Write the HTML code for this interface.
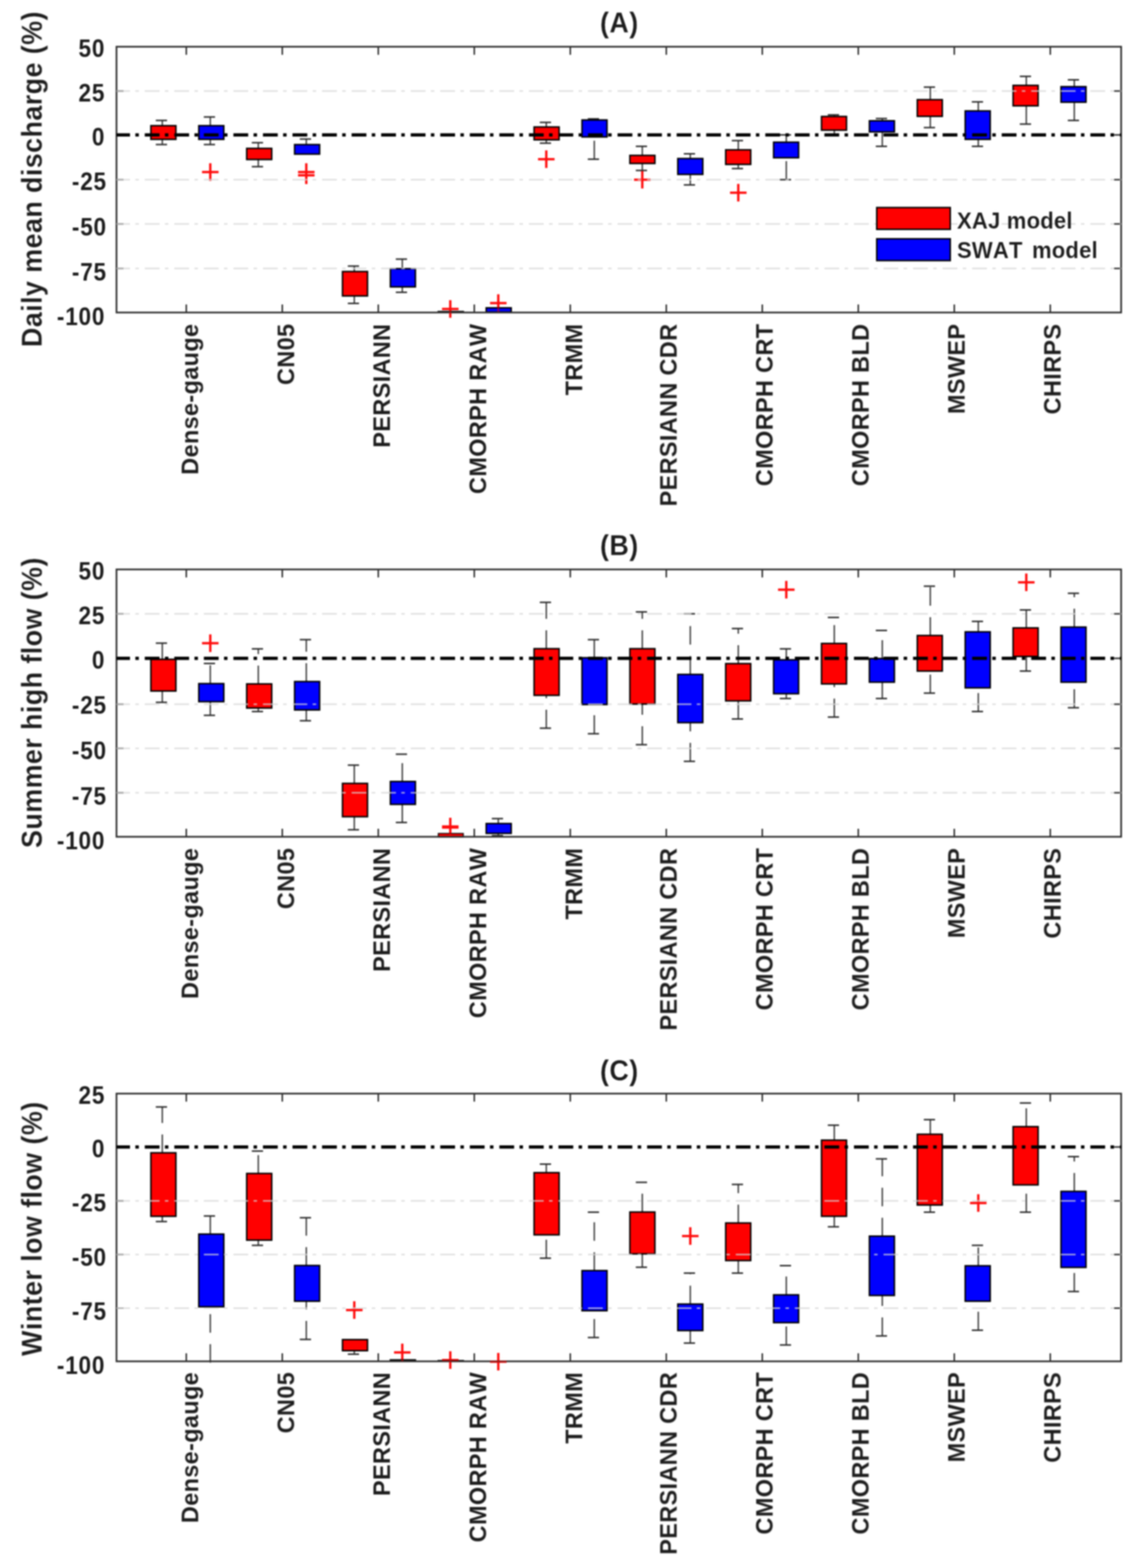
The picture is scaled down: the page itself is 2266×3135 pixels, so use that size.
<!DOCTYPE html>
<html lang="en">
<head>
<meta charset="utf-8">
<title>Relative bias boxplots: XAJ and SWAT models</title>
<style>
html,body{margin:0;padding:0;background:#fff;}
body{width:2266px;height:3135px;overflow:hidden;}
svg{display:block;}
text{font-kerning:none;font-family:"Liberation Sans", sans-serif;font-weight:bold;fill:#1c1c1c;stroke:#fff;stroke-width:0.3px;stroke-linejoin:round;}
.ticktext text{font-size:48px;letter-spacing:0.5px;}
.ticktext text.yt{letter-spacing:1.7px;stroke:none;}
.ticktext text.xl{letter-spacing:0.65px;stroke-width:0.1px;}
.labtext text{font-size:55px;letter-spacing:0.8px;}
.legend text{font-size:45px;letter-spacing:0.4px;stroke-width:0.2px;}
.wk{stroke:#4a4a4a;stroke-width:3.0;fill:none;stroke-dasharray:37 23;}
.cap{stroke:#2a2a2a;stroke-width:3.0;fill:none;}
.bx{stroke:#000;stroke-width:3.0;}
.fl{stroke-width:2;}
.out{stroke:#ff0000;stroke-width:4.5;fill:none;opacity:0.92;}
.out.o2{opacity:0.45;}
.lw{stroke-width:3.0;}
.grid path{opacity:0.78;stroke:#d6d6d6;stroke-width:3.0;fill:none;stroke-dasharray:29.6 10.7 7 11.8;stroke-dashoffset:2.6;}
.zero{stroke:#000;stroke-width:6.4;fill:none;stroke-dasharray:29.6 10.7 7 11.8;stroke-dashoffset:2.6;}
.axes rect{fill:none;stroke:#2e2e2e;stroke-width:3.4;}
.axes path{fill:none;stroke:#2e2e2e;stroke-width:3.0;}
</style>
</head>
<body>
<svg width="2266" height="3135" viewBox="0 0 2266 3135" role="img" aria-label="Boxplots of relative bias for XAJ and SWAT models">
<rect width="2266" height="3135" fill="#fff"/>
<defs><filter id="soft" x="0" y="0" width="2266" height="3135" filterUnits="userSpaceOnUse" color-interpolation-filters="sRGB"><feGaussianBlur stdDeviation="1.45"/></filter></defs>
<g id="chart" filter="url(#soft)">
<g class="panel">
<path class="out" d="M404.1 344h33M420.6 326.5v35M596.1 344h33M612.6 326.5v35M596.1 350.5h33M612.6 333v35M884.1 617.8h33M900.6 600.3v35M980.1 606h33M996.6 588.5v35M1076.1 318.3h33M1092.6 300.8v35M1268.1 359.2h33M1284.6 341.7v35M1460.1 385.2h33M1476.6 367.7v35"/>
<g class="boxes">
<path class="wk" d="M324.6 251.6V240.8"/>
<path class="cap" d="M311.6 240.8h22.5"/>
<path class="wk" d="M324.6 289V278.3"/>
<path class="cap" d="M311.6 289h22.5"/>
<rect class="bx" x="301.8" y="251.3" width="50" height="27.3" fill="#ff0000"/>
<path class="wk" d="M420.6 251.6V233.9"/>
<path class="cap" d="M407.6 233.9h22.5"/>
<path class="wk" d="M420.6 289V278.3"/>
<path class="cap" d="M407.6 289h22.5"/>
<rect class="bx" x="397.6" y="251.3" width="50" height="27.3" fill="#0000ff"/>
<path class="wk" d="M516.6 297V285.3"/>
<path class="cap" d="M503.6 285.3h22.5"/>
<path class="wk" d="M516.6 333.2V318.6"/>
<path class="cap" d="M503.6 333.2h22.5"/>
<rect class="bx" x="493.4" y="296.7" width="50" height="22.2" fill="#ff0000"/>
<path class="wk" d="M612.6 289.4V278"/>
<path class="cap" d="M599.6 278h22.5"/>
<rect class="bx" x="589.2" y="289.1" width="50" height="19" fill="#0000ff"/>
<path class="wk" d="M708.6 543.2V532"/>
<path class="cap" d="M695.6 532h22.5"/>
<path class="wk" d="M708.6 606.6V591.4"/>
<path class="cap" d="M695.6 606.6h22.5"/>
<rect class="bx" x="685" y="542.9" width="50" height="48.8" fill="#ff0000"/>
<path class="wk" d="M804.6 537.5V518.1"/>
<path class="cap" d="M791.6 518.1h22.5"/>
<path class="wk" d="M804.6 584.4V573.3"/>
<path class="cap" d="M791.6 584.4h22.5"/>
<rect class="bx" x="780.8" y="537.2" width="50" height="36.4" fill="#0000ff"/>
<rect class="bx" x="876.6" y="623" width="50" height="1" fill="#ff0000"/>
<rect class="bx" x="972.4" y="615.5" width="50" height="8.5" fill="#0000ff"/>
<path class="wk" d="M1092.6 254.2V244.7"/>
<path class="cap" d="M1079.6 244.7h22.5"/>
<path class="wk" d="M1092.6 286.2V279.2"/>
<path class="cap" d="M1079.6 286.2h22.5"/>
<rect class="bx" x="1068.2" y="253.9" width="50" height="25.6" fill="#ff0000"/>
<path class="wk" d="M1188.6 240.2V237.7"/>
<path class="cap" d="M1175.6 237.7h22.5"/>
<path class="wk" d="M1188.6 318.3V273.5"/>
<path class="cap" d="M1175.6 318.3h22.5"/>
<rect class="bx" x="1164" y="239.9" width="50" height="33.9" fill="#0000ff"/>
<path class="wk" d="M1284.6 311V292.6"/>
<path class="cap" d="M1271.6 292.6h22.5"/>
<path class="wk" d="M1284.6 340.8V326.5"/>
<path class="cap" d="M1271.6 340.8h22.5"/>
<rect class="bx" x="1259.8" y="310.7" width="50" height="16.1" fill="#ff0000"/>
<path class="wk" d="M1380.6 317.3V307.5"/>
<path class="cap" d="M1367.6 307.5h22.5"/>
<path class="wk" d="M1380.6 369.7V348.4"/>
<path class="cap" d="M1367.6 369.7h22.5"/>
<rect class="bx" x="1355.6" y="317" width="50" height="31.7" fill="#0000ff"/>
<path class="wk" d="M1476.6 299.9V281.1"/>
<path class="cap" d="M1463.6 281.1h22.5"/>
<path class="wk" d="M1476.6 337V328.4"/>
<path class="cap" d="M1463.6 337h22.5"/>
<rect class="bx" x="1451.4" y="299.6" width="50" height="29.1" fill="#ff0000"/>
<path class="wk" d="M1572.6 284.6V269.7"/>
<path class="cap" d="M1559.6 269.7h22.5"/>
<path class="wk" d="M1572.6 359.2V315.1"/>
<path class="cap" d="M1559.6 359.2h22.5"/>
<rect class="bx" x="1547.2" y="284.3" width="50" height="31.1" fill="#0000ff"/>
<path class="wk" d="M1668.6 233.2V229.7"/>
<path class="cap" d="M1655.6 229.7h22.5"/>
<path class="wk" d="M1668.6 269.5V259.9"/>
<path class="cap" d="M1655.6 269.5h22.5"/>
<rect class="bx" x="1643" y="232.9" width="50" height="27.3" fill="#ff0000"/>
<path class="wk" d="M1764.6 241.8V237"/>
<path class="cap" d="M1751.6 237h22.5"/>
<path class="wk" d="M1764.6 292.6V263.4"/>
<path class="cap" d="M1751.6 292.6h22.5"/>
<rect class="bx" x="1738.8" y="241.5" width="50" height="22.2" fill="#0000ff"/>
<path class="wk" d="M1860.6 199.6V174.2"/>
<path class="cap" d="M1847.6 174.2h22.5"/>
<path class="wk" d="M1860.6 255.1V232.3"/>
<path class="cap" d="M1847.6 255.1h22.5"/>
<rect class="bx" x="1834.6" y="199.3" width="50" height="33.3" fill="#ff0000"/>
<path class="wk" d="M1956.6 222.1V203.7"/>
<path class="cap" d="M1943.6 203.7h22.5"/>
<path class="wk" d="M1956.6 292.6V278.3"/>
<path class="cap" d="M1943.6 292.6h22.5"/>
<rect class="bx" x="1930.4" y="221.8" width="50" height="56.8" fill="#0000ff"/>
<path class="wk" d="M2052.6 171V152.7"/>
<path class="cap" d="M2039.6 152.7h22.5"/>
<path class="wk" d="M2052.6 248.1V211.3"/>
<path class="cap" d="M2039.6 248.1h22.5"/>
<rect class="bx" x="2026.2" y="170.7" width="50" height="40.9" fill="#ff0000"/>
<path class="wk" d="M2148.6 173.6V159.6"/>
<path class="cap" d="M2135.6 159.6h22.5"/>
<path class="wk" d="M2148.6 240.8V204"/>
<path class="cap" d="M2135.6 240.8h22.5"/>
<rect class="bx" x="2122" y="173.3" width="50" height="31" fill="#0000ff"/>
</g>
<g class="axes">
<rect x="233" y="93.4" width="2009.3" height="531.4"/>
<path d="M372.6 93.4v16M372.6 624.8v-16M564.6 93.4v16M564.6 624.8v-16M756.6 93.4v16M756.6 624.8v-16M948.6 93.4v16M948.6 624.8v-16M1140.6 93.4v16M1140.6 624.8v-16M1332.6 93.4v16M1332.6 624.8v-16M1524.6 93.4v16M1524.6 624.8v-16M1716.6 93.4v16M1716.6 624.8v-16M1908.6 93.4v16M1908.6 624.8v-16M2100.6 93.4v16M2100.6 624.8v-16M233 182.1h14M2242.3 182.1h-14M233 269.8h14M2242.3 269.8h-14M233 359.3h14M2242.3 359.3h-14M233 447.8h14M2242.3 447.8h-14M233 536.7h14M2242.3 536.7h-14"/>
</g>
<path class="out o2" d="M404.1 344h33M420.6 326.5v35M596.1 344h33M612.6 326.5v35M596.1 350.5h33M612.6 333v35M884.1 617.8h33M900.6 600.3v35M980.1 606h33M996.6 588.5v35M1076.1 318.3h33M1092.6 300.8v35M1268.1 359.2h33M1284.6 341.7v35M1460.1 385.2h33M1476.6 367.7v35"/>
<g class="grid">
<path d="M233 182.1H2242.3"/>
<path d="M233 359.3H2242.3"/>
<path d="M233 447.8H2242.3"/>
<path d="M233 536.7H2242.3"/>
</g>
<path class="zero" d="M233 269.8H2242.3"/>
<g class="ticktext">
<text class="yt" transform="translate(210.5 114) scale(0.94 1.04)" text-anchor="end">50</text>
<text class="yt" transform="translate(210.5 202.6) scale(0.94 1.04)" text-anchor="end">25</text>
<text class="yt" transform="translate(210.5 291.1) scale(0.94 1.04)" text-anchor="end">0</text>
<text class="yt" transform="translate(213.8 380.2) scale(0.94 1.04)" text-anchor="end">-25</text>
<text class="yt" transform="translate(213.8 471.3) scale(0.94 1.04)" text-anchor="end">-50</text>
<text class="yt" transform="translate(213.8 560.8) scale(0.94 1.04)" text-anchor="end">-75</text>
<text class="yt" transform="translate(210.5 649.9) scale(0.94 1.04)" text-anchor="end">-100</text>
<text class="xl" transform="translate(396.8 647) rotate(-90) scale(0.98 1.01)" text-anchor="end">Dense-gauge</text>
<text class="xl" transform="translate(588.8 647) rotate(-90) scale(0.98 1.01)" text-anchor="end">CN05</text>
<text class="xl" transform="translate(780.3 647) rotate(-90) scale(0.98 1.01)" text-anchor="end">PERSIANN</text>
<text class="xl" transform="translate(972.8 647) rotate(-90) scale(0.98 1.01)" text-anchor="end">CMORPH RAW</text>
<text class="xl" transform="translate(1164.8 647) rotate(-90) scale(0.98 1.01)" text-anchor="end">TRMM</text>
<text class="xl" transform="translate(1353.8 647) rotate(-90) scale(0.98 1.01)" text-anchor="end">PERSIANN CDR</text>
<text class="xl" transform="translate(1545.8 647) rotate(-90) scale(0.98 1.01)" text-anchor="end">CMORPH CRT</text>
<text class="xl" transform="translate(1737.8 647) rotate(-90) scale(0.98 1.01)" text-anchor="end">CMORPH BLD</text>
<text class="xl" transform="translate(1929.8 647) rotate(-90) scale(0.98 1.01)" text-anchor="end">MSWEP</text>
<text class="xl" transform="translate(2121.8 647) rotate(-90) scale(0.98 1.01)" text-anchor="end">CHIRPS</text>
</g>
<g class="labtext">
<text transform="translate(1238.7 65) scale(0.98 1.04)" text-anchor="middle">(A)</text>
<text transform="translate(83.5 358.1) rotate(-90) scale(0.98 1.04)" text-anchor="middle">Daily mean discharge (%)</text>
</g>
<g class="legend">
<rect class="bx" x="1753.5" y="415" width="147" height="43.5" fill="#ff0000"/>
<rect class="bx" x="1753.5" y="477.5" width="147" height="43.5" fill="#0000ff"/>
<text transform="translate(1914 457.3) scale(0.98 1.04)">XAJ model</text>
<text transform="translate(1914 515.5) scale(0.98 1.04)" style="word-spacing:6px">SWAT model</text>
</g>
</g>
<g class="panel">
<path class="out" d="M404.1 1285.9h33M420.6 1268.4v35M884.1 1652.4h33M900.6 1634.9v35M884.1 1654.4h33M900.6 1636.9v35M1556.1 1178.9h33M1572.6 1161.4v35M2036.1 1164.3h33M2052.6 1146.8v35"/>
<g class="boxes">
<path class="wk" d="M324.6 1318.5V1285.9"/>
<path class="cap" d="M311.6 1285.9h22.5"/>
<path class="wk" d="M324.6 1404.2V1381.3"/>
<path class="cap" d="M311.6 1404.2h22.5"/>
<rect class="bx" x="301.8" y="1318.2" width="50" height="63.4" fill="#ff0000"/>
<path class="wk" d="M420.6 1367.1V1326.5"/>
<path class="cap" d="M407.6 1326.5h22.5"/>
<path class="wk" d="M420.6 1430.2V1402.6"/>
<path class="cap" d="M407.6 1430.2h22.5"/>
<rect class="bx" x="397.6" y="1366.8" width="50" height="36.1" fill="#0000ff"/>
<path class="wk" d="M516.6 1367.7V1297.3"/>
<path class="cap" d="M503.6 1297.3h22.5"/>
<path class="wk" d="M516.6 1422.6V1415.3"/>
<path class="cap" d="M503.6 1422.6h22.5"/>
<rect class="bx" x="493.4" y="1367.4" width="50" height="48.2" fill="#ff0000"/>
<path class="wk" d="M612.6 1363V1278.9"/>
<path class="cap" d="M599.6 1278.9h22.5"/>
<path class="wk" d="M612.6 1441V1419.1"/>
<path class="cap" d="M599.6 1441h22.5"/>
<rect class="bx" x="589.2" y="1362.7" width="50" height="56.7" fill="#0000ff"/>
<path class="wk" d="M708.6 1566.6V1529.8"/>
<path class="cap" d="M695.6 1529.8h22.5"/>
<path class="wk" d="M708.6 1659V1632.6"/>
<path class="cap" d="M695.6 1659h22.5"/>
<rect class="bx" x="685" y="1566.3" width="50" height="66.6" fill="#ff0000"/>
<path class="wk" d="M804.6 1562.8V1507.9"/>
<path class="cap" d="M791.6 1507.9h22.5"/>
<path class="wk" d="M804.6 1644.4V1607.9"/>
<path class="cap" d="M791.6 1644.4h22.5"/>
<rect class="bx" x="780.8" y="1562.5" width="50" height="45.7" fill="#0000ff"/>
<rect class="bx fl" x="876.6" y="1666.4" width="50" height="7" fill="#ff0000"/>
<path class="wk" d="M996.6 1646.9V1636.7"/>
<path class="cap" d="M983.6 1636.7h22.5"/>
<path class="wk" d="M996.6 1670.7V1665.9"/>
<path class="cap" d="M983.6 1670.7h22.5"/>
<rect class="bx" x="972.4" y="1646.6" width="50" height="19.6" fill="#0000ff"/>
<path class="wk" d="M1092.6 1297.3V1204.3"/>
<path class="cap" d="M1079.6 1204.3h22.5"/>
<path class="wk" d="M1092.6 1455.9V1389.9"/>
<path class="cap" d="M1079.6 1455.9h22.5"/>
<rect class="bx" x="1068.2" y="1297" width="50" height="93.2" fill="#ff0000"/>
<path class="wk" d="M1188.6 1315.4V1278.9"/>
<path class="cap" d="M1175.6 1278.9h22.5"/>
<path class="wk" d="M1188.6 1467V1408.3"/>
<path class="cap" d="M1175.6 1467h22.5"/>
<rect class="bx" x="1164" y="1315.1" width="50" height="93.5" fill="#0000ff"/>
<path class="wk" d="M1284.6 1297.3V1223.4"/>
<path class="cap" d="M1271.6 1223.4h22.5"/>
<path class="wk" d="M1284.6 1488.9V1407.4"/>
<path class="cap" d="M1271.6 1488.9h22.5"/>
<rect class="bx" x="1259.8" y="1297" width="50" height="110.7" fill="#ff0000"/>
<path class="wk" d="M1380.6 1348.7V1227.2"/>
<path class="cap" d="M1367.6 1227.2h22.5"/>
<path class="wk" d="M1380.6 1522.2V1444.5"/>
<path class="cap" d="M1367.6 1522.2h22.5"/>
<rect class="bx" x="1355.6" y="1348.4" width="50" height="96.4" fill="#0000ff"/>
<path class="wk" d="M1476.6 1327.1V1256.7"/>
<path class="cap" d="M1463.6 1256.7h22.5"/>
<path class="wk" d="M1476.6 1437.5V1401"/>
<path class="cap" d="M1463.6 1437.5h22.5"/>
<rect class="bx" x="1451.4" y="1326.8" width="50" height="74.5" fill="#ff0000"/>
<path class="wk" d="M1572.6 1319.5V1297.3"/>
<path class="cap" d="M1559.6 1297.3h22.5"/>
<path class="wk" d="M1572.6 1396.6V1386.7"/>
<path class="cap" d="M1559.6 1396.6h22.5"/>
<rect class="bx" x="1547.2" y="1319.2" width="50" height="67.8" fill="#0000ff"/>
<path class="wk" d="M1668.6 1286.8V1234.5"/>
<path class="cap" d="M1655.6 1234.5h22.5"/>
<path class="wk" d="M1668.6 1433.7V1367.1"/>
<path class="cap" d="M1655.6 1433.7h22.5"/>
<rect class="bx" x="1643" y="1286.5" width="50" height="80.9" fill="#ff0000"/>
<path class="wk" d="M1764.6 1316.9V1260.5"/>
<path class="cap" d="M1751.6 1260.5h22.5"/>
<path class="wk" d="M1764.6 1396.6V1363.6"/>
<path class="cap" d="M1751.6 1396.6h22.5"/>
<rect class="bx" x="1738.8" y="1316.6" width="50" height="47.3" fill="#0000ff"/>
<path class="wk" d="M1860.6 1270.9V1172"/>
<path class="cap" d="M1847.6 1172h22.5"/>
<path class="wk" d="M1860.6 1385.8V1341.4"/>
<path class="cap" d="M1847.6 1385.8h22.5"/>
<rect class="bx" x="1834.6" y="1270.6" width="50" height="71.1" fill="#ff0000"/>
<path class="wk" d="M1956.6 1263.6V1242.4"/>
<path class="cap" d="M1943.6 1242.4h22.5"/>
<path class="wk" d="M1956.6 1422.6V1375"/>
<path class="cap" d="M1943.6 1422.6h22.5"/>
<rect class="bx" x="1930.4" y="1263.3" width="50" height="112" fill="#0000ff"/>
<path class="wk" d="M2052.6 1255.7V1219.5"/>
<path class="cap" d="M2039.6 1219.5h22.5"/>
<path class="wk" d="M2052.6 1341.7V1312.2"/>
<path class="cap" d="M2039.6 1341.7h22.5"/>
<rect class="bx" x="2026.2" y="1255.4" width="50" height="57.1" fill="#ff0000"/>
<path class="wk" d="M2148.6 1254.1V1186.2"/>
<path class="cap" d="M2135.6 1186.2h22.5"/>
<path class="wk" d="M2148.6 1415V1363.6"/>
<path class="cap" d="M2135.6 1415h22.5"/>
<rect class="bx" x="2122" y="1253.8" width="50" height="110.1" fill="#0000ff"/>
</g>
<g class="axes">
<rect x="233" y="1138.5" width="2009.3" height="534.5"/>
<path d="M372.6 1138.5v16M372.6 1673v-16M564.6 1138.5v16M564.6 1673v-16M756.6 1138.5v16M756.6 1673v-16M948.6 1138.5v16M948.6 1673v-16M1140.6 1138.5v16M1140.6 1673v-16M1332.6 1138.5v16M1332.6 1673v-16M1524.6 1138.5v16M1524.6 1673v-16M1716.6 1138.5v16M1716.6 1673v-16M1908.6 1138.5v16M1908.6 1673v-16M2100.6 1138.5v16M2100.6 1673v-16M233 1227.2h14M2242.3 1227.2h-14M233 1316.3h14M2242.3 1316.3h-14M233 1408h14M2242.3 1408h-14M233 1496.2h14M2242.3 1496.2h-14M233 1585h14M2242.3 1585h-14"/>
</g>
<path class="out o2" d="M404.1 1285.9h33M420.6 1268.4v35M884.1 1652.4h33M900.6 1634.9v35M884.1 1654.4h33M900.6 1636.9v35M1556.1 1178.9h33M1572.6 1161.4v35M2036.1 1164.3h33M2052.6 1146.8v35"/>
<g class="grid">
<path d="M233 1227.2H2242.3"/>
<path d="M233 1408H2242.3"/>
<path d="M233 1496.2H2242.3"/>
<path d="M233 1585H2242.3"/>
</g>
<path class="zero" d="M233 1316.3H2242.3"/>
<g class="ticktext">
<text class="yt" transform="translate(210.5 1159.1) scale(0.94 1.04)" text-anchor="end">50</text>
<text class="yt" transform="translate(210.5 1248.2) scale(0.94 1.04)" text-anchor="end">25</text>
<text class="yt" transform="translate(210.5 1337.3) scale(0.94 1.04)" text-anchor="end">0</text>
<text class="yt" transform="translate(213.8 1426.9) scale(0.94 1.04)" text-anchor="end">-25</text>
<text class="yt" transform="translate(213.8 1518.4) scale(0.94 1.04)" text-anchor="end">-50</text>
<text class="yt" transform="translate(213.8 1608.5) scale(0.94 1.04)" text-anchor="end">-75</text>
<text class="yt" transform="translate(210.5 1698.1) scale(0.94 1.04)" text-anchor="end">-100</text>
<text class="xl" transform="translate(396.8 1695) rotate(-90) scale(0.98 1.01)" text-anchor="end">Dense-gauge</text>
<text class="xl" transform="translate(588.8 1695) rotate(-90) scale(0.98 1.01)" text-anchor="end">CN05</text>
<text class="xl" transform="translate(780.3 1695) rotate(-90) scale(0.98 1.01)" text-anchor="end">PERSIANN</text>
<text class="xl" transform="translate(972.8 1695) rotate(-90) scale(0.98 1.01)" text-anchor="end">CMORPH RAW</text>
<text class="xl" transform="translate(1164.8 1695) rotate(-90) scale(0.98 1.01)" text-anchor="end">TRMM</text>
<text class="xl" transform="translate(1353.8 1695) rotate(-90) scale(0.98 1.01)" text-anchor="end">PERSIANN CDR</text>
<text class="xl" transform="translate(1545.8 1695) rotate(-90) scale(0.98 1.01)" text-anchor="end">CMORPH CRT</text>
<text class="xl" transform="translate(1737.8 1695) rotate(-90) scale(0.98 1.01)" text-anchor="end">CMORPH BLD</text>
<text class="xl" transform="translate(1929.8 1695) rotate(-90) scale(0.98 1.01)" text-anchor="end">MSWEP</text>
<text class="xl" transform="translate(2121.8 1695) rotate(-90) scale(0.98 1.01)" text-anchor="end">CHIRPS</text>
</g>
<g class="labtext">
<text transform="translate(1238.7 1110.1) scale(0.98 1.04)" text-anchor="middle">(B)</text>
<text transform="translate(83.5 1404.8) rotate(-90) scale(0.98 1.04)" text-anchor="middle">Summer high flow (%)</text>
</g>
</g>
<g class="panel">
<path class="out" d="M692.1 2619.3h33M708.6 2601.8v35M788.1 2704h33M804.6 2686.5v35M884.1 2719.3h33M900.6 2701.8v35M980.1 2722.4h33M996.6 2704.9v35M1364.1 2471.2h33M1380.6 2453.7v35M1940.1 2405.2h33M1956.6 2387.7v35"/>
<g class="boxes">
<path class="wk" d="M324.6 2305.2V2213.2"/>
<path class="cap" d="M311.6 2213.2h22.5"/>
<path class="wk" d="M324.6 2442.3V2431.5"/>
<path class="cap" d="M311.6 2442.3h22.5"/>
<rect class="bx" x="301.8" y="2304.9" width="50" height="126.9" fill="#ff0000"/>
<path class="wk" d="M420.6 2467.7V2431.2"/>
<path class="cap" d="M407.6 2431.2h22.5"/>
<path class="wk" d="M420.6 2724.5V2612.4"/>
<rect class="bx" x="397.6" y="2467.4" width="50" height="145.3" fill="#0000ff"/>
<path class="wk" d="M516.6 2346.5V2301.4"/>
<path class="cap" d="M503.6 2301.4h22.5"/>
<path class="wk" d="M516.6 2489.9V2479.1"/>
<path class="cap" d="M503.6 2489.9h22.5"/>
<rect class="bx" x="493.4" y="2346.2" width="50" height="133.2" fill="#ff0000"/>
<path class="wk" d="M612.6 2530.5V2434.7"/>
<path class="cap" d="M599.6 2434.7h22.5"/>
<path class="wk" d="M612.6 2678V2601.3"/>
<path class="cap" d="M599.6 2678h22.5"/>
<rect class="bx" x="589.2" y="2530.2" width="50" height="71.4" fill="#0000ff"/>
<path class="wk" d="M708.6 2707.5V2700.2"/>
<path class="cap" d="M695.6 2707.5h22.5"/>
<rect class="bx" x="685" y="2678.4" width="50" height="22.1" fill="#ff0000"/>
<rect class="bx" x="780.8" y="2719" width="50" height="2.5" fill="#0000ff"/>
<rect class="bx" x="876.6" y="2720.5" width="50" height="0.5" fill="#ff0000"/>
<path class="wk" d="M1092.6 2344.9V2327.5"/>
<path class="cap" d="M1079.6 2327.5h22.5"/>
<path class="wk" d="M1092.6 2515.6V2468.6"/>
<path class="cap" d="M1079.6 2515.6h22.5"/>
<rect class="bx" x="1068.2" y="2344.6" width="50" height="124.3" fill="#ff0000"/>
<path class="wk" d="M1188.6 2540.7V2423.6"/>
<path class="cap" d="M1175.6 2423.6h22.5"/>
<path class="wk" d="M1188.6 2674.2V2620.3"/>
<path class="cap" d="M1175.6 2674.2h22.5"/>
<rect class="bx" x="1164" y="2540.4" width="50" height="80.2" fill="#0000ff"/>
<path class="wk" d="M1284.6 2423.6V2363.9"/>
<path class="cap" d="M1271.6 2363.9h22.5"/>
<path class="wk" d="M1284.6 2533.7V2506.7"/>
<path class="cap" d="M1271.6 2533.7h22.5"/>
<rect class="bx" x="1259.8" y="2423.3" width="50" height="83.7" fill="#ff0000"/>
<path class="wk" d="M1380.6 2607.6V2545.4"/>
<path class="cap" d="M1367.6 2545.4h22.5"/>
<path class="wk" d="M1380.6 2685.3V2660"/>
<path class="cap" d="M1367.6 2685.3h22.5"/>
<rect class="bx" x="1355.6" y="2607.3" width="50" height="53" fill="#0000ff"/>
<path class="wk" d="M1476.6 2445.5V2368.1"/>
<path class="cap" d="M1463.6 2368.1h22.5"/>
<path class="wk" d="M1476.6 2545.4V2520"/>
<path class="cap" d="M1463.6 2545.4h22.5"/>
<rect class="bx" x="1451.4" y="2445.2" width="50" height="75.1" fill="#ff0000"/>
<path class="wk" d="M1572.6 2589.2V2530.5"/>
<path class="cap" d="M1559.6 2530.5h22.5"/>
<path class="wk" d="M1572.6 2689.1V2644.1"/>
<path class="cap" d="M1559.6 2689.1h22.5"/>
<rect class="bx" x="1547.2" y="2588.9" width="50" height="55.5" fill="#0000ff"/>
<path class="wk" d="M1668.6 2279.9V2249.7"/>
<path class="cap" d="M1655.6 2249.7h22.5"/>
<path class="wk" d="M1668.6 2452.8V2431.5"/>
<path class="cap" d="M1655.6 2452.8h22.5"/>
<rect class="bx" x="1643" y="2279.6" width="50" height="152.2" fill="#ff0000"/>
<path class="wk" d="M1764.6 2471.8V2317"/>
<path class="cap" d="M1751.6 2317h22.5"/>
<path class="wk" d="M1764.6 2671V2589.8"/>
<path class="cap" d="M1751.6 2671h22.5"/>
<rect class="bx" x="1738.8" y="2471.5" width="50" height="118.6" fill="#0000ff"/>
<path class="wk" d="M1860.6 2268.1V2238.6"/>
<path class="cap" d="M1847.6 2238.6h22.5"/>
<path class="wk" d="M1860.6 2423.6V2409"/>
<path class="cap" d="M1847.6 2423.6h22.5"/>
<rect class="bx" x="1834.6" y="2267.8" width="50" height="141.5" fill="#ff0000"/>
<path class="wk" d="M1956.6 2531.1V2489.9"/>
<path class="cap" d="M1943.6 2489.9h22.5"/>
<path class="wk" d="M1956.6 2659.6V2601.3"/>
<path class="cap" d="M1943.6 2659.6h22.5"/>
<rect class="bx" x="1930.4" y="2530.8" width="50" height="70.8" fill="#0000ff"/>
<path class="wk" d="M2052.6 2252.9V2205.3"/>
<path class="cap" d="M2039.6 2205.3h22.5"/>
<path class="wk" d="M2052.6 2423.6V2368.7"/>
<path class="cap" d="M2039.6 2423.6h22.5"/>
<rect class="bx" x="2026.2" y="2252.6" width="50" height="116.4" fill="#ff0000"/>
<path class="wk" d="M2148.6 2382.3V2312.5"/>
<path class="cap" d="M2135.6 2312.5h22.5"/>
<path class="wk" d="M2148.6 2582.2V2533.7"/>
<path class="cap" d="M2135.6 2582.2h22.5"/>
<rect class="bx" x="2122" y="2382" width="50" height="152" fill="#0000ff"/>
</g>
<g class="axes">
<rect x="233" y="2186.5" width="2009.3" height="535.3"/>
<path d="M372.6 2186.5v16M372.6 2721.8v-16M564.6 2186.5v16M564.6 2721.8v-16M756.6 2186.5v16M756.6 2721.8v-16M948.6 2186.5v16M948.6 2721.8v-16M1140.6 2186.5v16M1140.6 2721.8v-16M1332.6 2186.5v16M1332.6 2721.8v-16M1524.6 2186.5v16M1524.6 2721.8v-16M1716.6 2186.5v16M1716.6 2721.8v-16M1908.6 2186.5v16M1908.6 2721.8v-16M2100.6 2186.5v16M2100.6 2721.8v-16M233 2293.2h14M2242.3 2293.2h-14M233 2401.1h14M2242.3 2401.1h-14M233 2508.3h14M2242.3 2508.3h-14M233 2615.5h14M2242.3 2615.5h-14"/>
</g>
<path class="out o2" d="M692.1 2619.3h33M708.6 2601.8v35M788.1 2704h33M804.6 2686.5v35M884.1 2719.3h33M900.6 2701.8v35M980.1 2722.4h33M996.6 2704.9v35M1364.1 2471.2h33M1380.6 2453.7v35M1940.1 2405.2h33M1956.6 2387.7v35"/>
<g class="grid">
<path d="M233 2401.1H2242.3"/>
<path d="M233 2508.3H2242.3"/>
<path d="M233 2615.5H2242.3"/>
</g>
<path class="zero" d="M233 2293.2H2242.3"/>
<g class="ticktext">
<text class="yt" transform="translate(210.5 2207.1) scale(0.94 1.04)" text-anchor="end">25</text>
<text class="yt" transform="translate(210.5 2314.2) scale(0.94 1.04)" text-anchor="end">0</text>
<text class="yt" transform="translate(213.8 2421.7) scale(0.94 1.04)" text-anchor="end">-25</text>
<text class="yt" transform="translate(213.8 2531.3) scale(0.94 1.04)" text-anchor="end">-50</text>
<text class="yt" transform="translate(213.8 2639.3) scale(0.94 1.04)" text-anchor="end">-75</text>
<text class="yt" transform="translate(210.5 2746.9) scale(0.94 1.04)" text-anchor="end">-100</text>
<text class="xl" transform="translate(396.8 2743) rotate(-90) scale(0.98 1.01)" text-anchor="end">Dense-gauge</text>
<text class="xl" transform="translate(588.8 2743) rotate(-90) scale(0.98 1.01)" text-anchor="end">CN05</text>
<text class="xl" transform="translate(780.3 2743) rotate(-90) scale(0.98 1.01)" text-anchor="end">PERSIANN</text>
<text class="xl" transform="translate(972.8 2743) rotate(-90) scale(0.98 1.01)" text-anchor="end">CMORPH RAW</text>
<text class="xl" transform="translate(1164.8 2743) rotate(-90) scale(0.98 1.01)" text-anchor="end">TRMM</text>
<text class="xl" transform="translate(1353.8 2743) rotate(-90) scale(0.98 1.01)" text-anchor="end">PERSIANN CDR</text>
<text class="xl" transform="translate(1545.8 2743) rotate(-90) scale(0.98 1.01)" text-anchor="end">CMORPH CRT</text>
<text class="xl" transform="translate(1737.8 2743) rotate(-90) scale(0.98 1.01)" text-anchor="end">CMORPH BLD</text>
<text class="xl" transform="translate(1929.8 2743) rotate(-90) scale(0.98 1.01)" text-anchor="end">MSWEP</text>
<text class="xl" transform="translate(2121.8 2743) rotate(-90) scale(0.98 1.01)" text-anchor="end">CHIRPS</text>
</g>
<g class="labtext">
<text transform="translate(1238.7 2159.6) scale(0.98 1.04)" text-anchor="middle">(C)</text>
<text transform="translate(83.5 2456.6) rotate(-90) scale(0.98 1.04)" text-anchor="middle">Winter low flow (%)</text>
</g>
</g>
</g>
</svg>
</body>
</html>
